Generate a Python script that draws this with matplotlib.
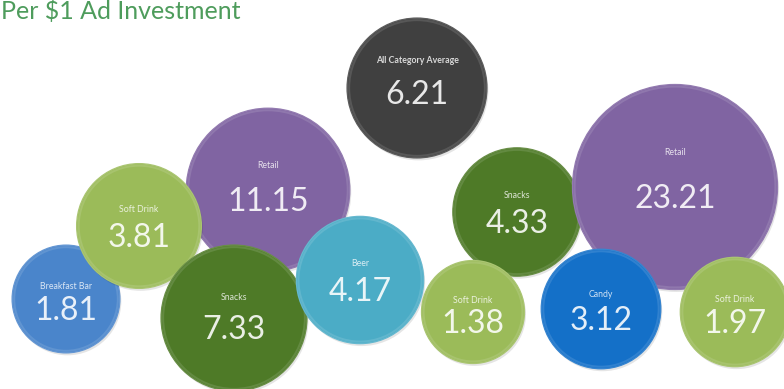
import numpy as np
import matplotlib.pyplot as plt
from matplotlib.patches import Circle

# Bubble data (drawn back to front)
categories = ['All Category Average', 'Retail', 'Breakfast Bar', 'Soft Drink', 'Snacks', 'Beer',
              'Snacks', 'Retail', 'Soft Drink', 'Candy', 'Soft Drink']
values = [6.21, 11.15, 1.81, 3.81, 7.33, 4.17, 4.33, 23.21, 1.38, 3.12, 1.97]
# bubble centres in pixel units of the slide (x right, y down)
x_pos = [417, 268, 66, 139, 234, 360, 517, 675, 473, 601, 735]
y_pos = [88, 190, 299, 226, 318, 280, 212, 187, 312, 309, 312]
colors = ['#404040', '#8064A2', '#4A85CB', '#9BBB59', '#4E7A27', '#4BACC6',
          '#4E7A27', '#8064A2', '#9BBB59', '#1470C8', '#9BBB59']

W, H = 784, 389
plt.rcParams['font.family'] = ['Lato', 'DejaVu Sans']

fig = plt.figure(figsize=(W / 100, H / 100), dpi=100)
ax = fig.add_axes([0, 0, 1, 1])
ax.set_xlim(0, W)
ax.set_ylim(H, 0)
ax.set_aspect('equal')
ax.axis('off')


def lighten(c, amt):
    rgb = np.array(plt.matplotlib.colors.to_rgb(c))
    return tuple(rgb + (1 - rgb) * amt)


for i, (cat, v, x, y, col) in enumerate(zip(categories, values, x_pos, y_pos, colors)):
    r = 35 + 14 * np.sqrt(v)   # bubble radius grows with the value
    z = 2 * i
    # soft shadow
    ax.add_patch(Circle((x + 1.5, y + 2.5), r, color='#000000', alpha=0.10, zorder=z, lw=0))
    ax.add_patch(Circle((x, y), r, facecolor=col, edgecolor=lighten(col, 0.15), lw=1.0, zorder=z + 0.5))
    # subtle bevel rim
    ax.add_patch(Circle((x, y), r - 2, facecolor='none', edgecolor=lighten(col, 0.12),
                        lw=1.5, zorder=z + 0.6))
    weight = 'bold' if cat == 'All Category Average' else 'normal'
    dy = -(0.45 * r - 12)
    if cat == 'All Category Average':
        dy = -28
    ax.text(x, y + dy, cat, color=lighten(col, 0.8), fontsize=6.3,
            ha='center', va='center', fontweight=weight, zorder=z + 1)
    ax.text(x, y + (7 if cat == 'All Category Average' else 12), f'{v:.2f}',
            color=lighten(col, 0.88), fontsize=23,
            ha='center', va='center', zorder=z + 1)

ax.text(1, 19, 'Per $1 Ad Investment', color='#4E9C5C', fontsize=18,
        ha='left', va='baseline', zorder=50)

fig.savefig('out.png', dpi=100, facecolor='white')
